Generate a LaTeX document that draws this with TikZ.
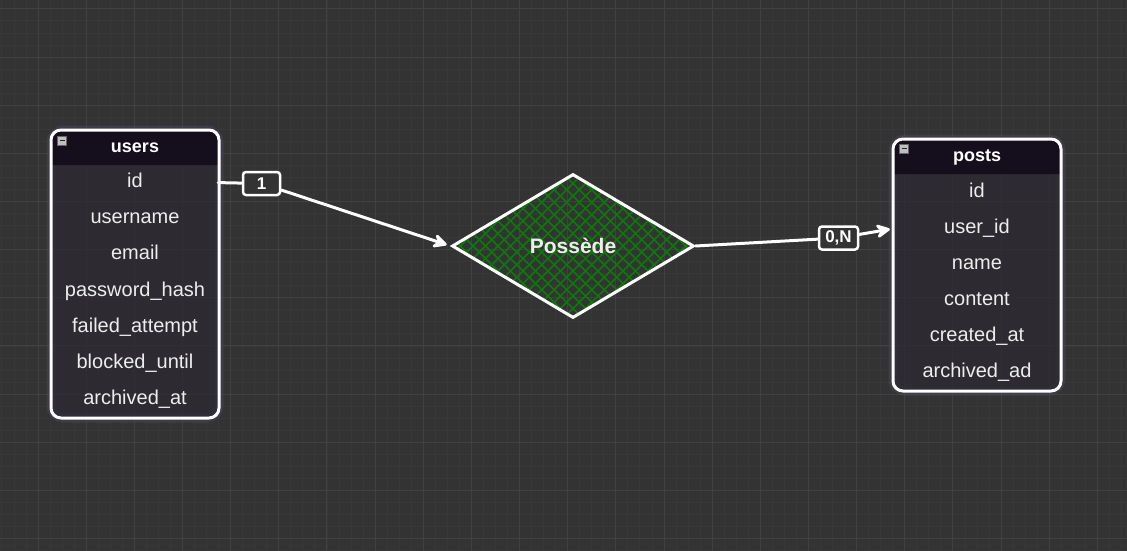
\documentclass[tikz,border=0pt]{standalone}
\usepackage{fontspec}
\setmainfont{Liberation Sans}
\usetikzlibrary{shapes.geometric,arrows.meta}

\definecolor{canvas}{HTML}{333333}
\definecolor{minorgrid}{HTML}{383838}
\definecolor{majorgrid}{HTML}{414141}
\definecolor{headfill}{HTML}{150E1D}
\definecolor{bodyfill}{HTML}{2B2931}
\definecolor{halo}{HTML}{4C4666}
\definecolor{hatch}{HTML}{0B7A0B}
\definecolor{ink}{HTML}{EDEDED}

\tikzset{
  field/.style={minimum width=166pt, minimum height=36pt, inner sep=0pt, text=ink,
    text height=14.5pt, text depth=4.2pt, font=\fontsize{20}{24}\selectfont},
  tablehead/.style={minimum width=166pt, minimum height=35pt, inner sep=0pt, text=white,
    text height=13pt, text depth=3.8pt, font=\bfseries\fontsize{18}{22}\selectfont},
  frame/.style={draw=white, line width=3pt, rounded corners=10pt},
  glow/.style={draw=halo, line width=9pt, rounded corners=12pt, opacity=0.45},
  fold/.style={draw=black!60, fill=black!25!white, minimum size=9pt, inner sep=0pt,
    path picture={\draw[black!85, line width=1.3pt]
      ([xshift=2pt]path picture bounding box.west) -- ([xshift=-2pt]path picture bounding box.east);}},
  relation/.style={diamond, minimum width=242pt, minimum height=144pt, inner sep=0pt,
    draw=white, line width=3pt, text=ink, font=\bfseries\fontsize{21}{25}\selectfont,
    path picture={
      \foreach \k in {-16,...,16}{
        \draw[hatch, line width=1.6pt] ([shift={(\k*12.5-80,-80)}]path picture bounding box.center) -- ++(160,160);
        \draw[hatch, line width=1.6pt] ([shift={(\k*12.5-80,80)}]path picture bounding box.center) -- ++(160,-160);
      }}},
  card/.style={draw=white, fill=canvas, line width=2.5pt, rounded corners=3pt, text=white,
    font=\bfseries\fontsize{17}{20}\selectfont, inner sep=0pt, minimum height=23pt},
  conn/.style={draw=white, line width=3pt, line cap=round, line join=round},
  link/.style={-{Stealth[length=18pt, width=18pt, inset=7pt, round]}, shorten >=4pt}
}

\begin{document}
\begin{tikzpicture}[x=1pt,y=-1pt]
  \useasboundingbox (0,0) rectangle (1127,551);
  \fill[canvas] (0,0) rectangle (1127,551);

  % grid
  \foreach \k in {0,...,93} \draw[minorgrid, line width=0.8pt] (1.89+12.0375*\k,0) -- ++(0,551);
  \foreach \k in {0,...,45} \draw[minorgrid, line width=0.8pt] (0,8.85+12.0375*\k) -- ++(1127,0);
  \foreach \k in {0,...,22} \draw[majorgrid, line width=0.9pt] (38+48.15*\k,0) -- ++(0,551);
  \foreach \k in {0,...,11} \draw[majorgrid, line width=0.9pt] (0,8.85+48.15*\k) -- ++(1127,0);

  % users
  \draw[glow] (51,130) rectangle (219,418);
  \fill[bodyfill, rounded corners=10pt, opacity=0.75] (51,130) rectangle (219,418);
  \fill[headfill] (51,165) [rounded corners=10pt] -- (51,130) -- (219,130) [sharp corners] -- (219,165) -- cycle;
  \node[tablehead] (users) at (135,148) {users};
  \foreach \f [count=\i] in {id,username,email,password\_hash,failed\_attempt,blocked\_until,archived\_at}
    \node[field] (u-\i) at (135,146.5+36.1*\i) {\f};
  \draw[frame] (51,130) rectangle (219,418);
  \node[fold] (users-fold) at (62,140.5) {};

  % posts
  \draw[glow] (893,139) rectangle (1061,391);
  \fill[bodyfill, rounded corners=10pt, opacity=0.75] (893,139) rectangle (1061,391);
  \fill[headfill] (893,174) [rounded corners=10pt] -- (893,139) -- (1061,139) [sharp corners] -- (1061,174) -- cycle;
  \node[tablehead] (posts) at (977,157) {posts};
  \foreach \f [count=\i] in {id,user\_id,name,content,created\_at,archived\_ad}
    \node[field] (p-\i) at (977,156.5+36*\i) {\f};
  \draw[frame] (893,139) rectangle (1061,391);
  \node[fold] (posts-fold) at (904,148.5) {};

  % relation
  \node[relation] (rel) at (573,246) {Possède};

  \node[card, minimum width=37pt] (one) at (261.5,183.5) {1};
  \node[card, minimum width=39pt] (zeron) at (838.5,238) {0,N};

  \draw[conn] (u-1.east) -- (one);
  \draw[conn, link] (one) -- (rel.west);
  \draw[conn] (rel.east) -- (zeron);
  \draw[conn, link] (zeron) -- (p-2.west);
\end{tikzpicture}
\end{document}
